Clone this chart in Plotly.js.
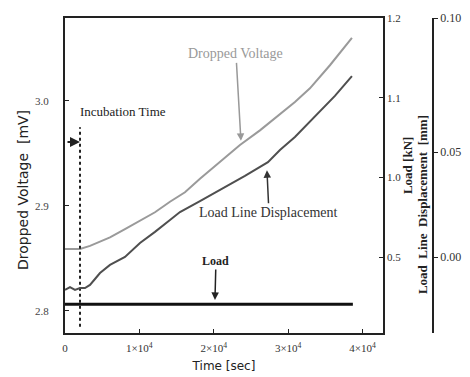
<!DOCTYPE html>
<html>
<head>
<meta charset="utf-8">
<script src="https://cdn.plot.ly/plotly-3.0.1.min.js"></script>
<style>html,body{margin:0;padding:0;background:#fff;}#chart{width:470px;height:377px;}</style>
</head>
<body>
<div id="chart"></div>
<script>
// Time [sec]
const voltTime = [0, 2016, 3360, 4704, 6048, 8064, 10080, 12096, 14112, 16128, 18144, 20832, 23520, 26208, 28896, 30912, 32928, 35616, 38573];
// Dropped Voltage [mV]
const voltValue = [2.859, 2.859, 2.862, 2.866, 2.870, 2.878, 2.886, 2.894, 2.904, 2.913, 2.926, 2.942, 2.958, 2.972, 2.987, 2.999, 3.012, 3.034, 3.060];
// Load line displacement [mm]
const dispTime = [0, 672, 1344, 2016, 2688, 3360, 4032, 4704, 6048, 8064, 10080, 12096, 14112, 15456, 18144, 20832, 24192, 27283, 28896, 30912, 34272, 36288, 38573];
const dispValue = [-0.0138, -0.0126, -0.0138, -0.0130, -0.0130, -0.0117, -0.0092, -0.0067, -0.0033, 0.0000, 0.0059, 0.0105, 0.0155, 0.0188, 0.0234, 0.0280, 0.0339, 0.0397, 0.0448, 0.0502, 0.0611, 0.0674, 0.0757];
// Load [kN]
const loadTime = [0, 38700];
const loadValue = [0.841, 0.841];
// Incubation time
const incubationTime = 2016;
const incubationSpan = [2.785, 2.975];

// Tick labels
const xTickVals = [0, 10000, 20000, 30000, 40000];
const xTickText = ['0', '1×10<sup>4</sup>', '2×10<sup>4</sup>', '3×10<sup>4</sup>', '4×10<sup>4</sup>'];
const vTickVals = [2.8, 2.9, 3.0];
const vTickText = ['2.8', '2.9', '3.0'];
const loadTickVals = [0.9, 1.0, 1.1, 1.2];
const loadTickText = ['0.5', '1.0', '1.1', '1.2'];
const dispTickVals = [0, 0.0439, 0.1];
const dispTickText = ['0.00', '0.05', '0.10'];

const serif = 'Liberation Serif, Times New Roman, serif';
const sans = 'DejaVu Sans, Arial, sans-serif';

const traces = [
  {x: voltTime, y: voltValue, type: 'scatter', mode: 'lines', xaxis: 'x', yaxis: 'y',
   line: {color: '#9a9a9a', width: 2}, name: 'Dropped Voltage'},
  {x: dispTime, y: dispValue, type: 'scatter', mode: 'lines', xaxis: 'x', yaxis: 'y3',
   line: {color: '#4f4f4f', width: 2}, name: 'Load Line Displacement'},
  {x: loadTime, y: loadValue, type: 'scatter', mode: 'lines', xaxis: 'x', yaxis: 'y2',
   line: {color: '#111', width: 3}, name: 'Load'},
  {x: [incubationTime, incubationTime], y: incubationSpan, type: 'scatter', mode: 'lines', xaxis: 'x', yaxis: 'y',
   line: {color: '#222', width: 2, dash: 'dot'}, name: 'Incubation Time'}
];

const layout = {
  width: 470, height: 377,
  margin: {l: 65, r: 30, t: 18, b: 44},
  paper_bgcolor: '#fff', plot_bgcolor: '#fff',
  showlegend: false,
  font: {family: serif, size: 11, color: '#333'},
  xaxis: {
    domain: [0, 0.848], range: [0, 42750],
    tickvals: xTickVals, ticktext: xTickText,
    ticks: 'inside', ticklen: 4, tickcolor: '#222',
    showline: true, mirror: true, linewidth: 2, linecolor: '#222',
    showgrid: false, zeroline: false,
    tickfont: {family: serif, size: 11, color: '#333'},
    ticklabelstandoff: 4,
    title: {text: 'Time [sec]', font: {family: sans, size: 12, color: '#222'}, standoff: 8}
  },
  yaxis: {
    range: [2.779, 3.079],
    tickvals: vTickVals, ticktext: vTickText,
    ticks: 'inside', ticklen: 4, tickcolor: '#222',
    showline: true, mirror: true, linewidth: 2, linecolor: '#222',
    showgrid: false, zeroline: false,
    tickfont: {family: serif, size: 11, color: '#444'},
    ticklabelstandoff: 12
  },
  yaxis2: {
    overlaying: 'y', side: 'right', anchor: 'x',
    range: [0.805, 1.2],
    tickvals: loadTickVals, ticktext: loadTickText,
    ticks: 'inside', ticklen: 4, tickcolor: '#222',
    showline: false, showgrid: false, zeroline: false,
    tickfont: {family: serif, size: 11, color: '#333'},
    ticklabelstandoff: 3
  },
  yaxis3: {
    overlaying: 'y', side: 'right', anchor: 'free', position: 0.981,
    range: [-0.0318, 0.1],
    tickvals: dispTickVals, ticktext: dispTickText,
    ticks: 'outside', ticklen: 4, tickcolor: '#222',
    showline: true, linewidth: 2, linecolor: '#222',
    showgrid: false, zeroline: false,
    tickfont: {family: serif, size: 12, color: '#333'}
  },
  annotations: [
    {xref: 'paper', yref: 'paper', x: -0.112, y: 0.454, xanchor: 'center', yanchor: 'middle',
     text: 'Dropped Voltage  [mV]', textangle: -90,
     showarrow: false, font: {family: sans, size: 14, color: '#222'}},
    {xref: 'paper', yref: 'paper', x: 0.912, y: 0.53, xanchor: 'center', yanchor: 'middle',
     text: 'Load [kN]', textangle: -90,
     showarrow: false, font: {family: serif, size: 13, color: '#222', weight: 'bold'}},
    {xref: 'paper', yref: 'paper', x: 0.952, y: 0.406, xanchor: 'center', yanchor: 'middle',
     text: 'Load  Line  Displacement  [mm]', textangle: -90,
     showarrow: false, font: {family: serif, size: 13, color: '#222', weight: 'bold'}},
    // in-plot labels
    {xref: 'x', yref: 'y', x: 1747, y: 2.9895, xanchor: 'left', text: 'Incubation Time',
     showarrow: false, font: {family: serif, size: 13, color: '#222'}},
    {xref: 'x', yref: 'y', x: 2016, y: 2.961, text: '', showarrow: true, axref: 'pixel', ayref: 'pixel',
     ax: -14, ay: 0, arrowhead: 2, arrowsize: 1, arrowwidth: 2, arrowcolor: '#222'},
    {xref: 'x', yref: 'y', x: 23654, y: 2.962, text: 'Dropped Voltage', showarrow: true,
     ax: -5, ay: -87, arrowhead: 2, arrowsize: 1, arrowwidth: 1.5, arrowcolor: '#999',
     font: {family: serif, size: 14, color: '#999'}},
    {xref: 'x', yref: 'y', x: 27149, y: 2.934, text: 'Load Line Displacement', showarrow: true,
     ax: 2, ay: 42, arrowhead: 2, arrowsize: 1, arrowwidth: 1.5, arrowcolor: '#333',
     font: {family: serif, size: 14, color: '#333'}},
    {xref: 'x', yref: 'y', x: 20160, y: 2.8105, text: 'Load', showarrow: true,
     ax: 1, ay: -39, arrowhead: 2, arrowsize: 1, arrowwidth: 1.5, arrowcolor: '#222',
     font: {family: serif, size: 12, color: '#222', weight: 'bold'}}
  ]
};

Plotly.newPlot('chart', traces, layout, {staticPlot: true, displayModeBar: false});
</script>
</body>
</html>
